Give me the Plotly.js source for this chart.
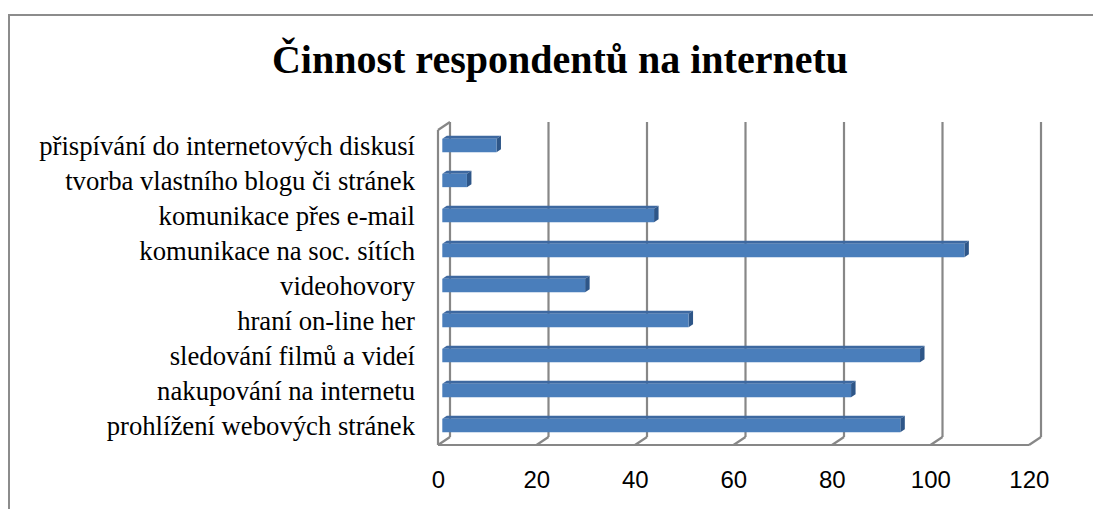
<!DOCTYPE html>
<html>
<head>
<meta charset="utf-8">
<script src="https://cdn.plot.ly/plotly-3.0.1.min.js"></script>
<style>
  html, body { margin: 0; padding: 0; background: #ffffff; }
  #wrap { position: relative; width: 1093px; height: 509px; overflow: hidden; }
  #frame { position: absolute; left: 8px; top: 14px; width: 1100px; height: 520px; border: 2px solid #8c8c8c; box-sizing: border-box; }
  #chart { position: absolute; left: 0; top: 0; width: 1093px; height: 509px; }
</style>
</head>
<body>
<div id="wrap">
  <div id="frame"></div>
  <div id="chart"></div>
</div>
<script>
// ---- data (bottom to top) ----
const categories = [
  "prohlížení webových stránek",
  "nakupování na internetu",
  "sledování filmů a videí",
  "hraní on-line her",
  "videohovory",
  "komunikace na soc. sítích",
  "komunikace přes e-mail",
  "tvorba vlastního blogu či stránek",
  "přispívání do internetových diskusí"
];
const values = [93, 83, 97, 50, 29, 106, 43, 5, 11];
const xTicks = [0, 20, 40, 60, 80, 100, 120];
const titleText = "Činnost respondentů na internetu";

// ---- layout geometry (pixels) ----
const W = 1093, H = 509;
const PL = 436, PR = 1043, PT = 120, PB = 447;   // plot area
const X0 = 442.3;          // pixel of value 0 on bar front plane
const PXU = 98.5 / 20;     // pixels per x unit
const Y0 = 425.5;          // pixel of first category centre
const ROW = 35;            // pixels per category

const xr = [(PL - X0) / PXU, (PR - X0) / PXU];
const yr = [(Y0 - PB) / ROW, (Y0 - PT) / ROW];
const dxu = px => px / PXU;           // pixel offset -> x units
const dyu = px => -px / ROW;          // screen-down pixel offset -> y units
const py = p => (Y0 - p) / ROW;       // screen y -> data y

// 3D wall geometry
const backDX = dxu(7.7), frontDX = dxu(-4.3);
const backFloor = py(437), frontFloor = py(445);
const backTop = py(122), frontTop = py(130);
const gridColor = "#878787";
const shapes = [];
const line = (x0, y0, x1, y1) => shapes.push({
  type: "line", xref: "x", yref: "y", x0, y0, x1, y1, layer: "below",
  line: { color: gridColor, width: 2.2 }
});
// back wall gridlines + floor slants
xTicks.forEach(v => {
  line(v + backDX, backFloor, v + backDX, backTop);
  line(v + backDX, backFloor, v + frontDX, frontFloor);
});
// floor front edge
line(xTicks[0] + frontDX, frontFloor, xTicks[xTicks.length - 1] + frontDX, frontFloor);
// left wall outer edge and top slant
line(xTicks[0] + frontDX, frontFloor, xTicks[0] + frontDX, frontTop);
line(xTicks[0] + frontDX, frontTop, xTicks[0] + backDX, backTop);

// bar depth faces
const barW = 0.38;
const ddx = dxu(4.5), ddy = dyu(-3);
values.forEach((v, i) => {
  const top = i + barW / 2, bot = i - barW / 2;
  shapes.push({
    type: "path", xref: "x", yref: "y", layer: "below",
    path: `M0,${top} L${v},${top} L${v + ddx},${top + ddy} L${ddx},${top + ddy} Z`,
    fillcolor: "#3d68a0", line: { width: 0 }
  });
  shapes.push({
    type: "path", xref: "x", yref: "y", layer: "below",
    path: `M${v},${bot} L${v},${top} L${v + ddx},${top + ddy} L${v + ddx},${bot + ddy} Z`,
    fillcolor: "#2e5688", line: { width: 0 }
  });
});

const trace = {
  type: "bar",
  orientation: "h",
  y: categories.map((c, i) => i),
  x: values,
  width: barW,
  marker: { color: "#4a7ebb", line: { width: 0 } },
  hoverinfo: "skip"
};

const layout = {
  width: W, height: H,
  paper_bgcolor: "rgba(0,0,0,0)",
  plot_bgcolor: "rgba(0,0,0,0)",
  margin: { l: PL, r: W - PR, t: PT, b: H - PB, pad: 0 },
  showlegend: false,
  title: {
    text: "<b>" + titleText + "</b>",
    font: { family: "Liberation Serif, Times New Roman, serif", size: 40, color: "#000000" },
    x: 560 / W, xanchor: "center", xref: "container",
    y: 1 - 59 / H, yanchor: "middle", yref: "container"
  },
  xaxis: {
    range: xr, tickvals: xTicks, ticktext: xTicks.map(String),
    showgrid: false, zeroline: false, showline: false, ticks: "",
    ticklabelstandoff: 16, ticklabelshift: -4,
    tickfont: { family: "Liberation Sans, Arial, sans-serif", size: 24, color: "#000000" },
    fixedrange: true
  },
  yaxis: {
    range: yr, tickvals: categories.map((c, i) => i), ticktext: categories,
    showgrid: false, zeroline: false, showline: false, ticks: "",
    ticklabelstandoff: 20,
    tickfont: { family: "Liberation Serif, Times New Roman, serif", size: 26.7, color: "#000000" },
    fixedrange: true
  },
  shapes: shapes
};

Plotly.newPlot("chart", [trace], layout, { staticPlot: true, displayModeBar: false });
</script>
</body>
</html>
